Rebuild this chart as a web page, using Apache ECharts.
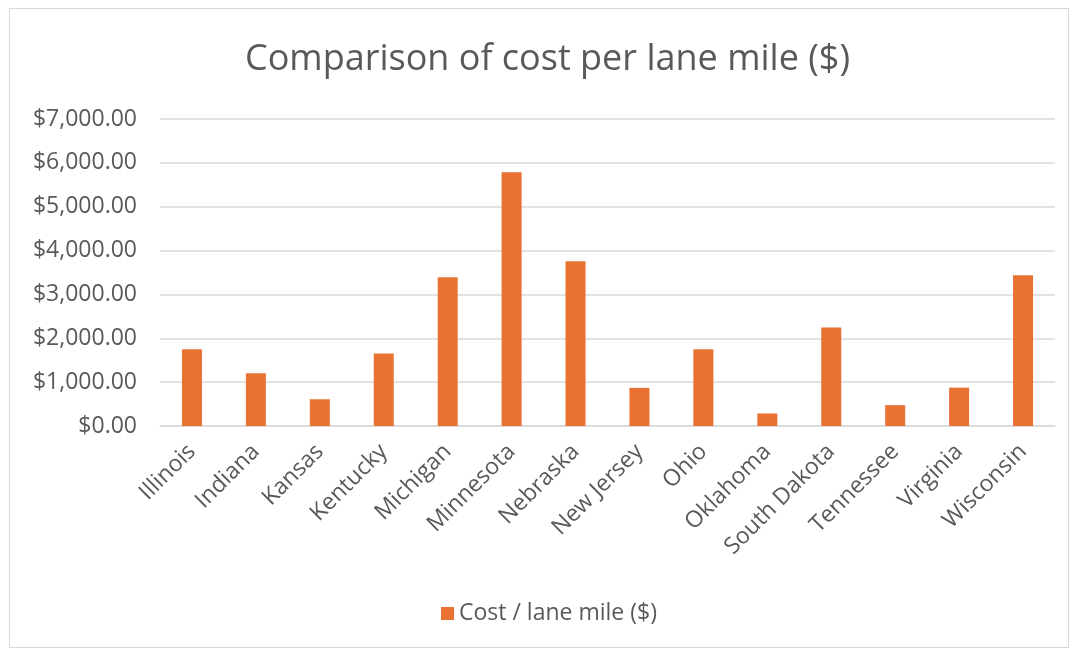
<!DOCTYPE html>
<html><head><meta charset="utf-8">
<script src="https://cdn.jsdelivr.net/npm/echarts@6/dist/echarts.min.js"></script>
<style>
html,body{margin:0;padding:0;background:#fff;}
#frame{position:absolute;left:9px;top:8px;width:1060px;height:640px;border:1px solid #d9d9d9;box-sizing:border-box;}
#c{position:absolute;left:0;top:0;width:1075px;height:654px;}
</style></head>
<body>
<div id="frame"></div>
<div id="c"></div>
<script>
const categories = ["Illinois","Indiana","Kansas","Kentucky","Michigan","Minnesota","Nebraska","New Jersey","Ohio","Oklahoma","South Dakota","Tennessee","Virginia","Wisconsin"];
const costPerLaneMile = [1750,1200,610,1655,3390,5785,3755,870,1750,285,2245,475,875,3435];
const seriesName = "Cost / lane mile ($)";
const titleText = "Comparison of cost per lane mile ($)";

const chart = echarts.init(document.getElementById('c'), null, {renderer:'canvas'});
const font = "'Open Sans', 'Liberation Sans', sans-serif";
chart.setOption({
  animation:false,
  title:{text:titleText,left:240,top:37,textStyle:{fontFamily:font,fontSize:36,fontWeight:'normal',color:'#595959'}},
  legend:{bottom:24,left:436,itemWidth:13,itemHeight:13,icon:'rect',itemGap:8,
    textStyle:{fontFamily:font,fontSize:23,color:'#595959'}},
  grid:{left:160,right:20,top:119,bottom:228,containLabel:false},
  xAxis:{type:'category',data:categories,
    axisLine:{lineStyle:{color:'#d9d9d9',width:1.5}},axisTick:{show:false},
    axisLabel:{rotate:45,fontFamily:font,fontSize:23,color:'#595959',interval:0,margin:22}},
  yAxis:{type:'value',min:0,max:7000,interval:1000,
    axisLine:{show:false},axisTick:{show:false},
    splitLine:{lineStyle:{color:'#d9d9d9',width:1.5}},
    axisLabel:{fontFamily:font,fontSize:23,color:'#595959',margin:23,
      formatter:v=>'$'+v.toLocaleString('en-US',{minimumFractionDigits:2,maximumFractionDigits:2})}},
  series:[{name:seriesName,type:'bar',data:costPerLaneMile,barWidth:20,itemStyle:{color:'#E97132'}}]
});
</script>
</body></html>
